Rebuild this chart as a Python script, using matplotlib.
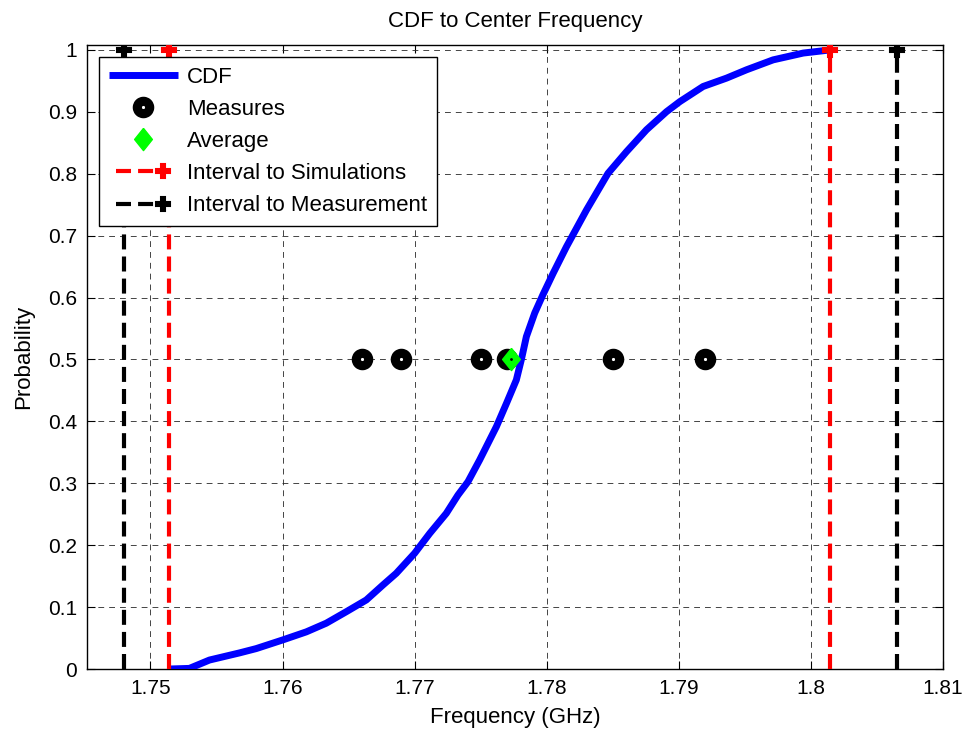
import numpy as np
import matplotlib
matplotlib.use('Agg')
from matplotlib import pyplot as plt
from matplotlib.legend_handler import HandlerLine2D

plt.rcParams['font.family'] = ['Liberation Sans', 'DejaVu Sans']

# CDF curve (GHz, probability)
cdf_freq = [1.75144, 1.75295, 1.75447, 1.75674, 1.75801, 1.76002, 1.76180, 1.76331,
            1.76483, 1.76634, 1.76760, 1.76861, 1.77000, 1.77114, 1.77240, 1.77328,
            1.77404, 1.77492, 1.77619, 1.77695, 1.77770, 1.77808, 1.77846, 1.77909,
            1.77972, 1.78048, 1.78149, 1.78301, 1.78464, 1.78604, 1.78755, 1.78907,
            1.79008, 1.79184, 1.79361, 1.79513, 1.79714, 1.79942, 1.80144]
cdf_prob = [0.0, 0.001, 0.0145, 0.026, 0.033, 0.047, 0.060, 0.074,
            0.0926, 0.1115, 0.1357, 0.1546, 0.187, 0.219, 0.2515, 0.281,
            0.3026, 0.3376, 0.3915, 0.429, 0.467, 0.500, 0.537, 0.575,
            0.605, 0.639, 0.682, 0.7415, 0.8007, 0.8357, 0.871, 0.9003,
            0.9166, 0.941, 0.9545, 0.968, 0.984, 0.995, 1.0]

measures = [1.766, 1.769, 1.775, 1.777, 1.785, 1.792]
measures_prob = [0.5] * len(measures)
average = 1.7773
average_prob = 0.5

sim_interval = [1.75144, 1.80144]
meas_interval = [1.7480, 1.80652]


class RightMarker(HandlerLine2D):
    # legend sample: dashed line with the marker near its right end
    def create_artists(self, legend, orig_handle, xdescent, ydescent, width, height,
                       fontsize, trans):
        arts = super().create_artists(legend, orig_handle, xdescent, ydescent, width,
                                      height, fontsize, trans)
        ln = arts[0]
        x, y = ln.get_xdata(), ln.get_ydata()
        x0, x1 = x[0], x[-1]
        ln.set_data([x0, x1 - 0.15 * (x1 - x0), x1], [y[0]] * 3)
        ln.set_markevery([1])
        return arts


fig = plt.figure(figsize=(9.67, 7.33), dpi=100)
ax = fig.add_axes([0.09, 0.0873, 0.8852, 0.8513])

cdf_line, = ax.plot(cdf_freq, cdf_prob, color='#0000ff', lw=5, label='CDF', zorder=3,
                    solid_joinstyle='round', solid_capstyle='butt')
meas_line, = ax.plot(measures, measures_prob, 'o', ms=9, mfc='white', mec='black',
                     mew=6.5, label='Measures', zorder=4)
diamond = [(0, 1), (0.8, 0), (0, -1), (-0.8, 0), (0, 1)]
avg_line, = ax.plot([average], [average_prob], marker=diamond, ms=16, color='#00ff00',
                    mec='#00ff00', ls='none', label='Average', zorder=5)
ax.plot([average], [average_prob], '.', color='black', ms=2, zorder=6)

lines = []
for xs, col, lab in [(sim_interval, 'red', 'Interval to Simulations'),
                     (meas_interval, 'black', 'Interval to Measurement')]:
    for i, x in enumerate(xs):
        ln, = ax.plot([x, x], [0, 1], color=col, lw=3, ls=(0, (3.6, 1.7)),
                      marker='P', ms=10, mew=1.5, mec=col, markevery=[1], zorder=4,
                      label=lab if i == 0 else None)
        if i == 0:
            lines.append(ln)

ax.set_xlim(1.7452, 1.81)
ax.set_ylim(0, 1.008)
ax.set_xticks(np.arange(1.75, 1.8101, 0.01))
ax.set_xticklabels(['1.75', '1.76', '1.77', '1.78', '1.79', '1.8', '1.81'])
ax.set_yticks(np.arange(0, 1.001, 0.1))
ax.set_yticklabels(['0', '0.1', '0.2', '0.3', '0.4', '0.5', '0.6', '0.7', '0.8', '0.9', '1'])
ax.tick_params(direction='in', top=True, right=True, length=6, width=0.8,
               labelsize=15, pad=7)
ax.grid(True, color='0.15', lw=0.6, ls=(0, (7, 6)))
ax.set_axisbelow(True)
for s in ax.spines.values():
    s.set_linewidth(1.0)

ax.set_title('CDF to Center Frequency', fontsize=16, pad=13)
ax.set_xlabel('Frequency (GHz)', fontsize=16, labelpad=7)
ax.set_ylabel('Probability', fontsize=16, labelpad=10)

handles = [cdf_line, meas_line, avg_line] + lines
hmap = {lines[0]: RightMarker(numpoints=2), lines[1]: RightMarker(numpoints=2)}
leg = ax.legend(handles=handles, handler_map=hmap, loc='upper left',
                bbox_to_anchor=(0.014, 0.981), fontsize=16, frameon=True,
                fancybox=False, edgecolor='black', framealpha=1, borderaxespad=0,
                handlelength=3.1, handletextpad=0.4, labelspacing=0.5,
                borderpad=0.45, numpoints=1)
leg.get_frame().set_linewidth(1.0)

fig.savefig('out.png', dpi=100)
